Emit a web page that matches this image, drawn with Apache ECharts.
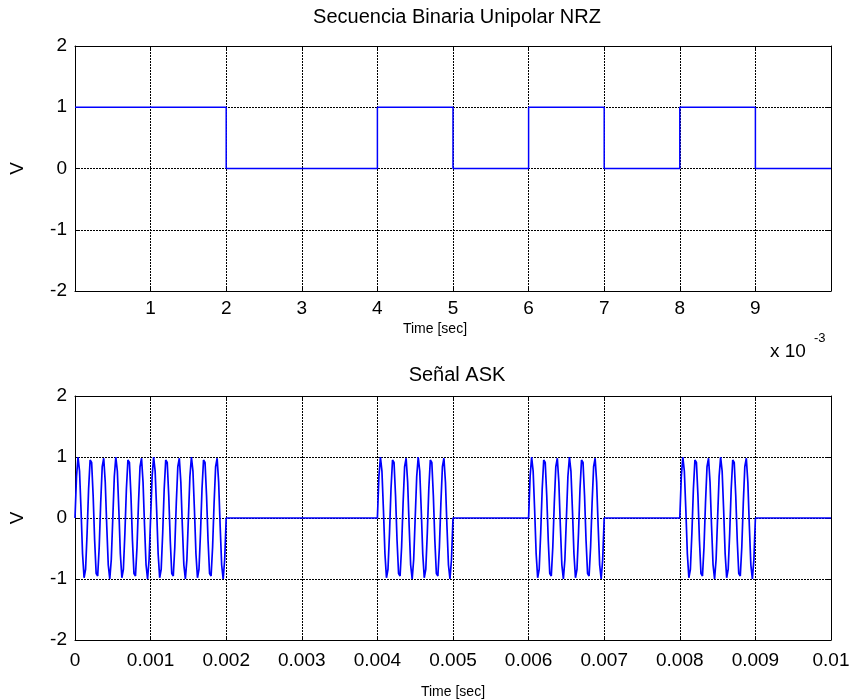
<!DOCTYPE html>
<html>
<head>
<meta charset="utf-8">
<script src="https://cdn.jsdelivr.net/npm/echarts@6/dist/echarts.min.js"></script>
<style>
  html, body { margin: 0; padding: 0; background: #fff; }
  #chart { width: 853px; height: 700px; }
</style>
</head>
<body>
<div id="chart"></div>
<script>
// Bit stream sent, one bit per millisecond
const bitSequence = [1, 1, 0, 0, 1, 0, 1, 0, 1, 0];
const bitTimeMs = [0, 1, 2, 3, 4, 5, 6, 7, 8, 9, 10];

// Carrier samples over one bit period (20 us spacing, 51 samples, 6 cycles)
const carrierSamples = [
  0, 0.68, 1.00, 0.77, 0.13, -0.59, -0.98, -0.84, -0.25, 0.48,
  0.95, 0.91, 0.37, -0.37, -0.91, -0.95, -0.48, 0.25, 0.84, 0.98,
  0.59, -0.13, -0.77, -1.00, -0.68, 0, 0.68, 1.00, 0.77, 0.13,
  -0.59, -0.98, -0.84, -0.25, 0.48, 0.95, 0.91, 0.37, -0.37, -0.91,
  -0.95, -0.48, 0.25, 0.84, 0.98, 0.59, -0.13, -0.77, -1.00, -0.68, 0
];
const samplesPerBit = 50;
const sampleRate = 50000; // samples per second

// Tick labels
const nrzTickLabels = ['', '1', '2', '3', '4', '5', '6', '7', '8', '9', ''];
const askTickLabels = ['0', '0.001', '0.002', '0.003', '0.004', '0.005', '0.006', '0.007', '0.008', '0.009', '0.01'];
const yTicks = [-2, -1, 0, 1, 2];

// NRZ step trace: value held over each bit, last level extended to the end
const nrzData = bitSequence.map((b, i) => [bitTimeMs[i], b]);
nrzData.push([bitTimeMs[bitSequence.length], bitSequence[bitSequence.length - 1]]);

// ASK trace: carrier keyed on/off by each bit
const askData = [];
bitSequence.forEach((b, i) => {
  for (let k = 0; k < samplesPerBit; k++) {
    askData.push([(i * samplesPerBit + k) / sampleRate, b * carrierSamples[k]]);
  }
});
askData.push([(bitSequence.length * samplesPerBit) / sampleRate, bitSequence[bitSequence.length - 1] * carrierSamples[samplesPerBit]]);

const FONT = 'Liberation Sans, Arial, sans-serif';
const gridLine = { show: true, lineStyle: { color: '#000', width: 1, type: [2, 1] } };
const boxLine = { show: true, onZero: false, lineStyle: { color: '#000', width: 1 } };
const tickIn = { show: true, inside: true, length: 4, lineStyle: { color: '#000' } };

function xBottom(gridIndex, min, max, interval, labels, nameGap, margin, namePad) {
  return {
    type: 'value', gridIndex, min, max, interval, position: 'bottom',
    axisLine: boxLine, axisTick: tickIn, splitLine: gridLine,
    axisLabel: {
      color: '#000', fontSize: 19, fontFamily: FONT, margin,
      showMinLabel: true, showMaxLabel: true,
      formatter: (v) => labels[Math.round((v - min) / interval)]
    },
    name: 'Time [sec]', nameLocation: 'middle', nameGap,
    nameTextStyle: { color: '#000', fontSize: 14, fontFamily: FONT, padding: namePad }
  };
}
function xTop(gridIndex, min, max, interval) {
  return {
    type: 'value', gridIndex, min, max, interval, position: 'top',
    axisLine: boxLine, axisTick: tickIn, splitLine: { show: false },
    axisLabel: { show: false }
  };
}
function yLeft(gridIndex) {
  return {
    type: 'value', gridIndex, min: yTicks[0], max: yTicks[yTicks.length - 1], interval: 1,
    position: 'left',
    axisLine: boxLine, axisTick: tickIn, splitLine: gridLine,
    axisLabel: { color: '#000', fontSize: 19, fontFamily: FONT, margin: 8 },
    name: 'V', nameLocation: 'middle', nameGap: 48, nameRotate: 90,
    nameTextStyle: { color: '#000', fontSize: 19, fontFamily: FONT }
  };
}
function yRight(gridIndex) {
  return {
    type: 'value', gridIndex, min: yTicks[0], max: yTicks[yTicks.length - 1], interval: 1,
    position: 'right',
    axisLine: boxLine, axisTick: tickIn, splitLine: { show: false },
    axisLabel: { show: false }
  };
}

const chart = echarts.init(document.getElementById('chart'), null, { renderer: 'canvas' });
chart.setOption({
  backgroundColor: '#fff',
  animation: false,
  title: [
    { text: 'Secuencia Binaria Unipolar NRZ', left: 452, top: 2, textAlign: 'center',
      textStyle: { color: '#000', fontSize: 20, fontWeight: 'normal', fontFamily: FONT } },
    { text: 'Señal ASK', left: 452, top: 360, textAlign: 'center',
      textStyle: { color: '#000', fontSize: 20, fontWeight: 'normal', fontFamily: FONT } }
  ],
  grid: [
    { left: 74, top: 46, width: 757, height: 245 },
    { left: 74, top: 396, width: 757, height: 245 }
  ],
  xAxis: [
    xBottom(0, 0, 10, 1, nrzTickLabels, 31, 8, [0, 36, 0, 0]),
    xBottom(1, 0, 0.01, 0.001, askTickLabels, 45, 11, 0),
    xTop(0, 0, 10, 1),
    xTop(1, 0, 0.01, 0.001)
  ],
  yAxis: [yLeft(0), yLeft(1), yRight(0), yRight(1)],
  graphic: [
    { type: 'text', left: 770, top: 342, style: { text: 'x 10', fill: '#000', fontSize: 19, fontFamily: FONT } },
    { type: 'text', left: 814, top: 332, style: { text: '-3', fill: '#000', fontSize: 13, fontFamily: FONT } }
  ],
  series: [
    {
      type: 'line', xAxisIndex: 0, yAxisIndex: 0, data: nrzData, step: 'end',
      showSymbol: false, lineStyle: { color: '#0000ff', width: 1.5 }, z: 5
    },
    {
      type: 'line', xAxisIndex: 1, yAxisIndex: 1, data: askData,
      showSymbol: false, lineStyle: { color: '#0000ff', width: 1.7 }, z: 5
    }
  ]
});
</script>
</body>
</html>
